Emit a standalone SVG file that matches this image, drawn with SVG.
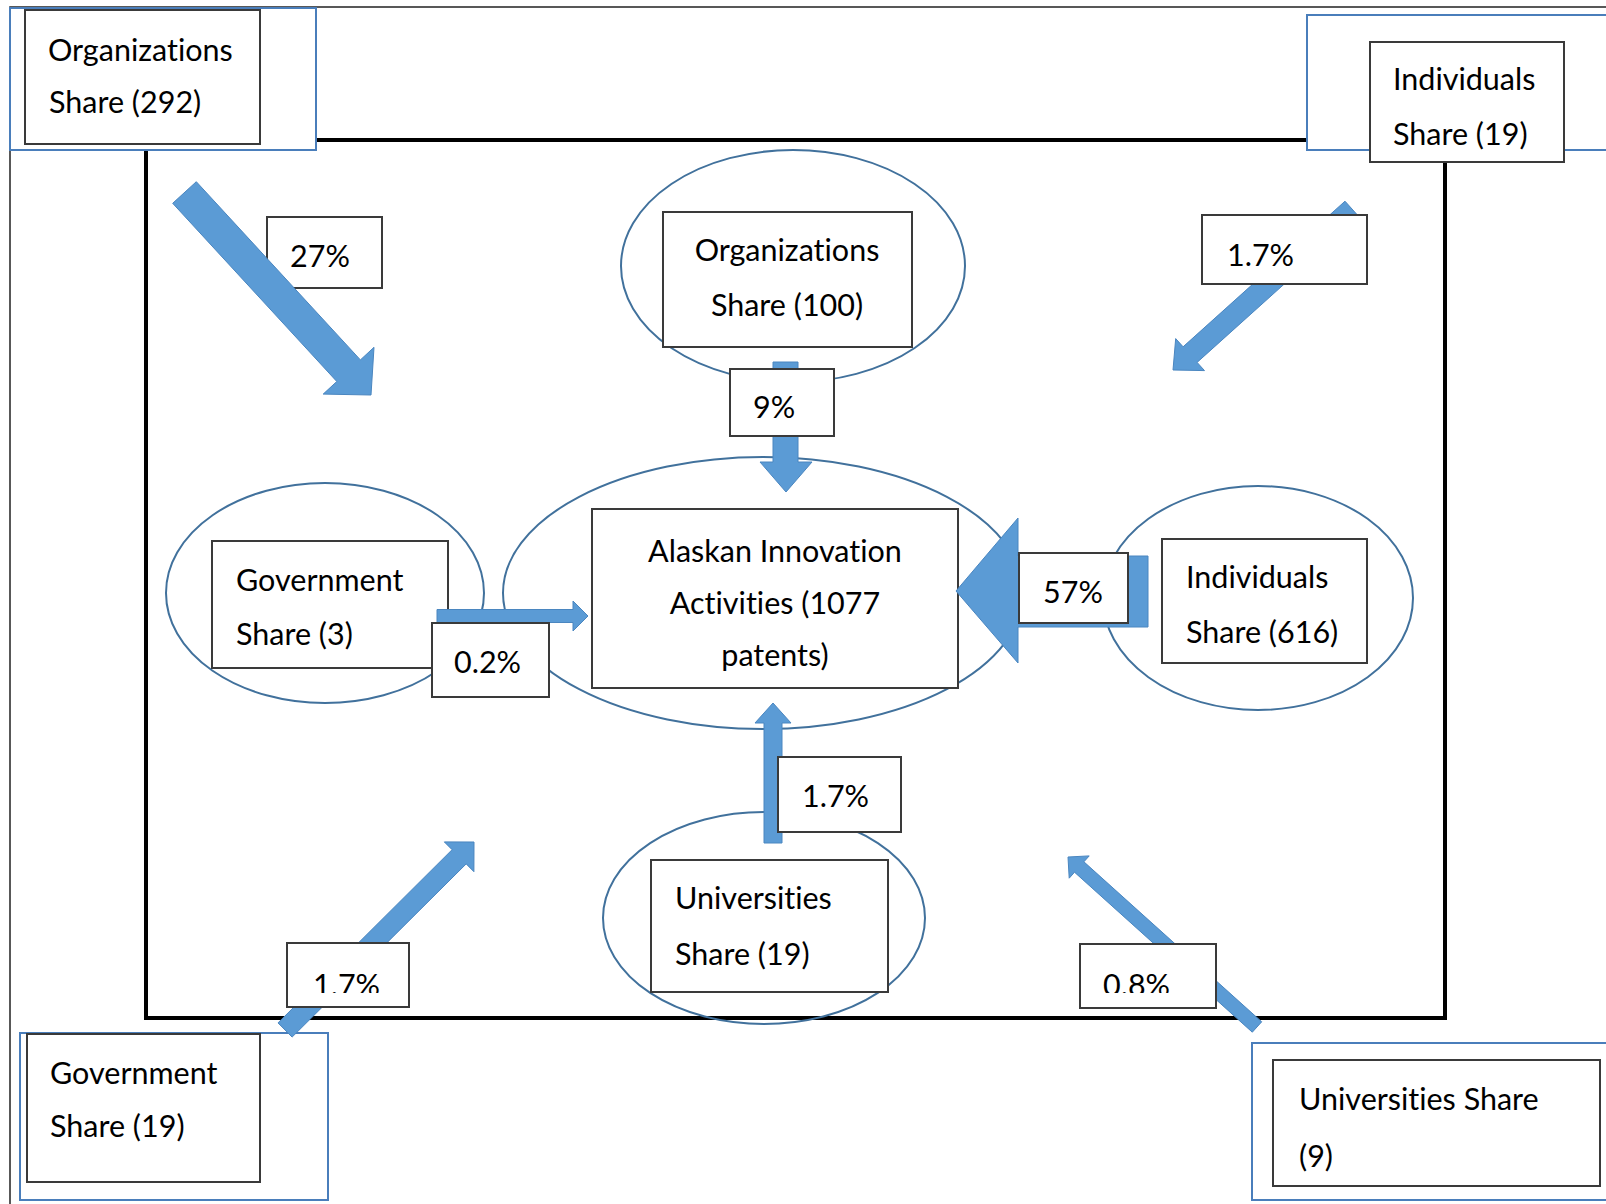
<svg xmlns="http://www.w3.org/2000/svg" width="1606" height="1204" viewBox="0 0 1606 1204">
<style>
text{font-family:Lato,"Open Sans","Liberation Sans",sans-serif;font-size:30.5px;fill:#000;font-variant-ligatures:none;font-feature-settings:"liga" 0,"clig" 0}
.c{text-anchor:middle}
.ell{fill:none;stroke:#41719C;stroke-width:2}
.outer{fill:#fff;stroke:#4A7EBB;stroke-width:2}
.box{fill:#fff;stroke:#3a3a3a;stroke-width:2}
.arr{fill:#5B9BD5;stroke:#4A86C0;stroke-width:1}
</style>
<defs>
<clipPath id="clipBL"><rect x="288" y="944" width="120" height="49"/></clipPath>
<clipPath id="clipBR"><rect x="1081" y="945" width="134" height="48"/></clipPath>
</defs>
<rect x="0" y="0" width="1606" height="1204" fill="#fff"/>
<rect x="10" y="7" width="1700" height="1300" fill="none" stroke="#222" stroke-width="1.5"/>
<rect id="frame" x="146" y="140" width="1299" height="878" fill="none" stroke="#000" stroke-width="4"/>

<g id="org-outer"><rect class="outer" x="10" y="8" width="306" height="142"/><rect class="box" x="25" y="10" width="235" height="134"/><text x="48" y="61">Organizations</text><text x="49" y="113">Share (292)</text></g>
<g id="ind-outer"><rect class="outer" x="1307" y="15" width="320" height="135"/><rect class="box" x="1370" y="42" width="194" height="120"/><text x="1393" y="90">Individuals</text><text x="1393" y="145">Share (19)</text></g>
<g id="gov-outer"><rect class="outer" x="20" y="1033" width="308" height="167"/><rect class="box" x="27" y="1034" width="233" height="148"/><text x="50" y="1084">Government</text><text x="50" y="1137">Share (19)</text></g>
<g id="univ-outer"><rect class="outer" x="1252" y="1043" width="370" height="157"/><rect class="box" x="1273" y="1060" width="327" height="126"/><text x="1299" y="1110">Universities Share</text><text x="1299" y="1167">(9)</text></g>

<g id="org-inner"><ellipse class="ell" cx="793" cy="266" rx="172" ry="116"/><rect class="box" x="663" y="212" width="249" height="135"/><text class="c" x="787" y="261">Organizations</text><text class="c" x="787" y="316">Share (100)</text></g>
<g id="center"><ellipse class="ell" cx="763" cy="593" rx="260" ry="136"/><rect class="box" x="592" y="509" width="366" height="179"/><text class="c" x="775" y="562">Alaskan Innovation</text><text class="c" x="775" y="614">Activities (1077</text><text class="c" x="775" y="666">patents)</text></g>
<g id="gov-inner"><ellipse class="ell" cx="325" cy="593" rx="159" ry="110"/><rect class="box" x="212" y="541" width="236" height="127"/><text x="236" y="591">Government</text><text x="236" y="645">Share (3)</text></g>
<g id="ind-inner"><ellipse class="ell" cx="1258" cy="598" rx="155" ry="112"/><rect class="box" x="1162" y="539" width="205" height="124"/><text x="1186" y="588">Individuals</text><text x="1186" y="643">Share (616)</text></g>
<g id="univ-inner"><ellipse class="ell" cx="764" cy="918" rx="161" ry="106"/><rect class="box" x="651" y="860" width="237" height="132"/><text x="675" y="909">Universities</text><text x="675" y="965">Share (19)</text></g>

<g id="label-27"><rect class="box" x="267" y="217" width="115" height="71"/><text x="290" y="267">27%</text></g>

<g id="connectors">
<polygon class="arr" points="196.3,181.7 360.4,359.9 374,347.3 371,395 323.2,394.1 336.8,381.5 172.7,203.3"/>
<polygon class="arr" points="1345,201.2 1183.1,346.8 1175.7,338.6 1173,370 1204.5,370.6 1197.1,362.4 1359,216.8"/>
<polygon class="arr" points="278,1022.9 452.1,849.7 444.3,841.9 474,842 473.9,871.7 466.2,863.9 292.1,1037.1"/>
<polygon class="arr" points="1261.7,1021.8 1083.9,861.8 1089.2,855.9 1068,857 1069.2,878.2 1074.5,872.2 1252.3,1032.2"/>
<polygon class="arr" points="773,362 798,362 798,462 812,462 786,492 760,462 773,462"/>
<polygon class="arr" points="437,609.5 573,609.5 573,601 588,616 573,631 573,622.5 437,622.5"/>
<polygon class="arr" points="1148,556 1018,556 1018,518 956,591 1018,663 1018,627 1148,627"/>
<polygon class="arr" points="764,843 764,723 755,723 773,703 791,723 782,723 782,843"/>
</g>

<g id="labels">
<g id="label-17-tr"><rect class="box" x="1202" y="215" width="165" height="69"/><text x="1227" y="266">1.7%</text></g>
<g id="label-9"><rect class="box" x="730" y="369" width="104" height="67"/><text x="753" y="418">9%</text></g>
<g id="label-02"><rect class="box" x="432" y="623" width="117" height="74"/><text x="454" y="673">0.2%</text></g>
<g id="label-57"><rect class="box" x="1019" y="553" width="109" height="70"/><text x="1043" y="603">57%</text></g>
<g id="label-17-u"><rect class="box" x="778" y="757" width="123" height="75"/><text x="802" y="807">1.7%</text></g>
<g id="label-17-bl"><rect class="box" x="287" y="943" width="122" height="64"/><text x="313" y="996" clip-path="url(#clipBL)">1.7%</text></g>
<g id="label-08"><rect class="box" x="1080" y="944" width="136" height="64"/><text x="1103" y="996" clip-path="url(#clipBR)">0.8%</text></g>
</g>
</svg>
